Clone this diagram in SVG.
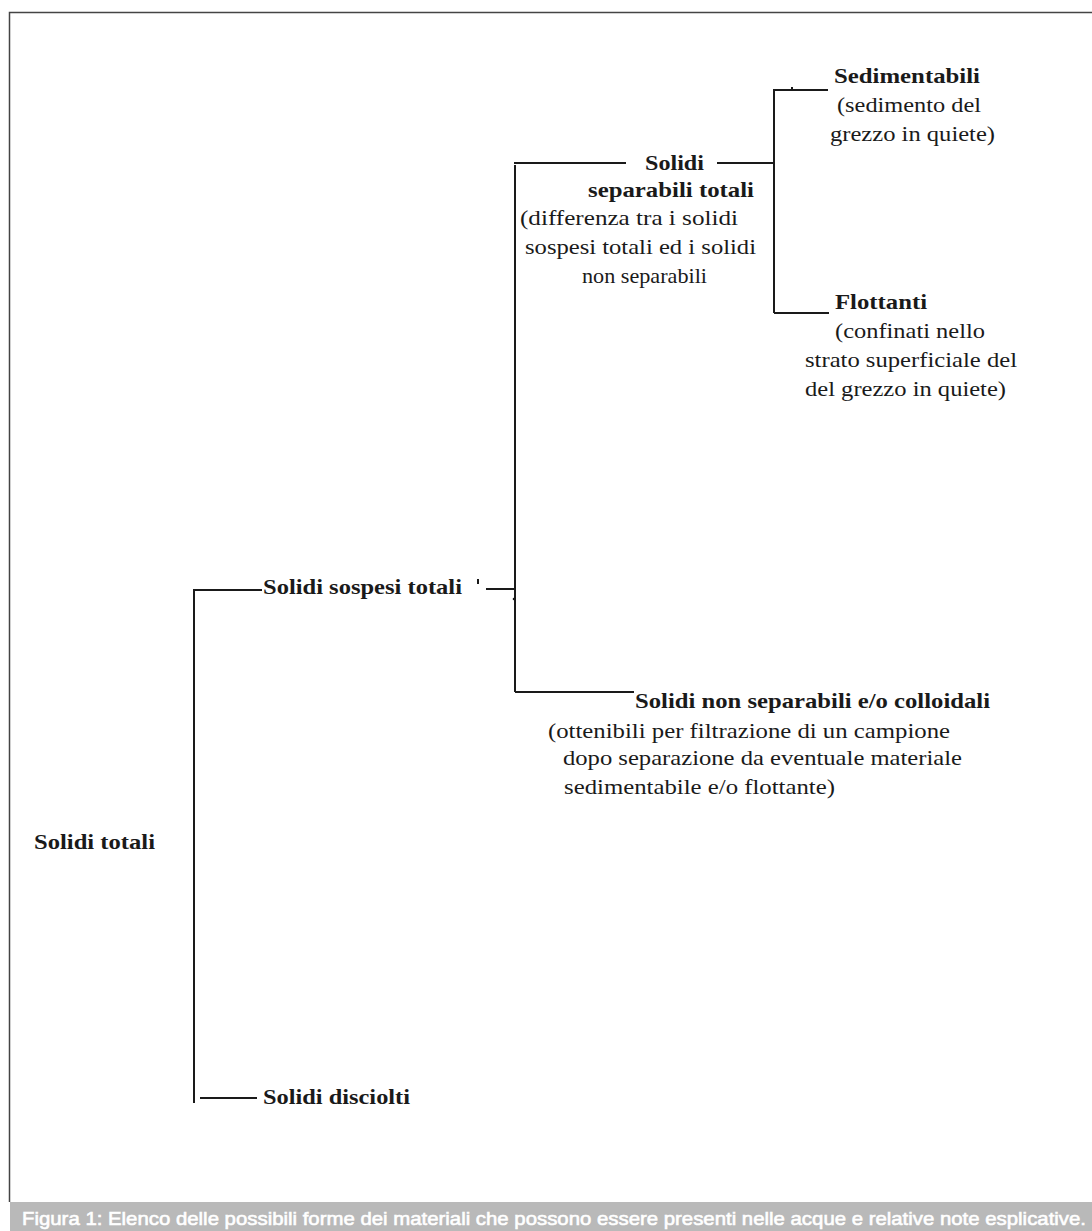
<svg xmlns="http://www.w3.org/2000/svg" width="1092" height="1231" viewBox="0 0 1092 1231">
<style>
.t{font-family:"Liberation Serif","Times New Roman",serif;font-size:21px;fill:#1a1a1a}
.b{font-weight:bold}
.ln{stroke:#1a1a1a;stroke-width:2;fill:none}
.cap{font-family:"Liberation Sans",Arial,sans-serif;font-size:19px;fill:#ffffff;stroke:#ffffff;stroke-width:0.6}
</style>
<rect x="0" y="0" width="1092" height="1231" fill="#ffffff"/>
<g id="frame">
<path d="M9.5 1202 V12.5 H1092" fill="none" stroke="#444" stroke-width="1.5"/>
<rect x="10" y="1202" width="1082" height="29" fill="#b9b9b9"/>
<text class="cap" x="22" y="1225" textLength="1064" lengthAdjust="spacingAndGlyphs">Figura 1: Elenco delle possibili forme dei materiali che possono essere presenti nelle acque e relative note esplicative.</text>
</g>
<g id="connectors">
<path class="ln" d="M194 1103 V590 H262"/>
<path class="ln" d="M200 1098 H257"/>
<path class="ln" d="M486 589 H514"/>
<path class="ln" d="M515 692 V165"/>
<path class="ln" d="M514 163 H626"/>
<path class="ln" d="M717 163 H774"/>
<path class="ln" d="M515 692 H634"/>
<path class="ln" d="M774 313 V90 H828"/>
<path class="ln" d="M774 313 H829"/>
<path class="ln" d="M792 90 V87"/>
<circle cx="514" cy="599" r="1.3" fill="#1a1a1a"/>
<path class="ln" d="M478 579 V584" stroke-width="1.5"/>
</g>
<g id="node-solidi-totali">
<text class="t b" x="34" y="849" textLength="121" lengthAdjust="spacingAndGlyphs">Solidi totali</text>
</g>
<g id="node-solidi-sospesi-totali">
<text class="t b" x="263" y="594" textLength="199" lengthAdjust="spacingAndGlyphs">Solidi sospesi totali</text>
</g>
<g id="node-solidi-disciolti">
<text class="t b" x="263" y="1104" textLength="147" lengthAdjust="spacingAndGlyphs">Solidi disciolti</text>
</g>
<g id="node-solidi-separabili-totali">
<text class="t b" x="645" y="170" textLength="59" lengthAdjust="spacingAndGlyphs">Solidi</text>
<text class="t b" x="588" y="197" textLength="166" lengthAdjust="spacingAndGlyphs">separabili totali</text>
<text class="t" x="520" y="225" textLength="218" lengthAdjust="spacingAndGlyphs">(differenza tra i solidi</text>
<text class="t" x="525" y="254" textLength="231" lengthAdjust="spacingAndGlyphs">sospesi totali ed i solidi</text>
<text class="t" x="582" y="283" textLength="125" lengthAdjust="spacingAndGlyphs">non separabili</text>
</g>
<g id="node-sedimentabili">
<text class="t b" x="834" y="83" textLength="146" lengthAdjust="spacingAndGlyphs">Sedimentabili</text>
<text class="t" x="837" y="112" textLength="144" lengthAdjust="spacingAndGlyphs">(sedimento del</text>
<text class="t" x="830" y="141" textLength="165" lengthAdjust="spacingAndGlyphs">grezzo in quiete)</text>
</g>
<g id="node-flottanti">
<text class="t b" x="835" y="309" textLength="92" lengthAdjust="spacingAndGlyphs">Flottanti</text>
<text class="t" x="835" y="338" textLength="150" lengthAdjust="spacingAndGlyphs">(confinati nello</text>
<text class="t" x="805" y="367" textLength="212" lengthAdjust="spacingAndGlyphs">strato superficiale del</text>
<text class="t" x="805" y="396" textLength="201" lengthAdjust="spacingAndGlyphs">del grezzo in quiete)</text>
</g>
<g id="node-solidi-non-separabili">
<text class="t b" x="635" y="708" textLength="355" lengthAdjust="spacingAndGlyphs">Solidi non separabili e/o colloidali</text>
<text class="t" x="548" y="738" textLength="402" lengthAdjust="spacingAndGlyphs">(ottenibili per filtrazione di un campione</text>
<text class="t" x="563" y="765" textLength="399" lengthAdjust="spacingAndGlyphs">dopo separazione da eventuale materiale</text>
<text class="t" x="564" y="794" textLength="271" lengthAdjust="spacingAndGlyphs">sedimentabile e/o flottante)</text>
</g>
</svg>
